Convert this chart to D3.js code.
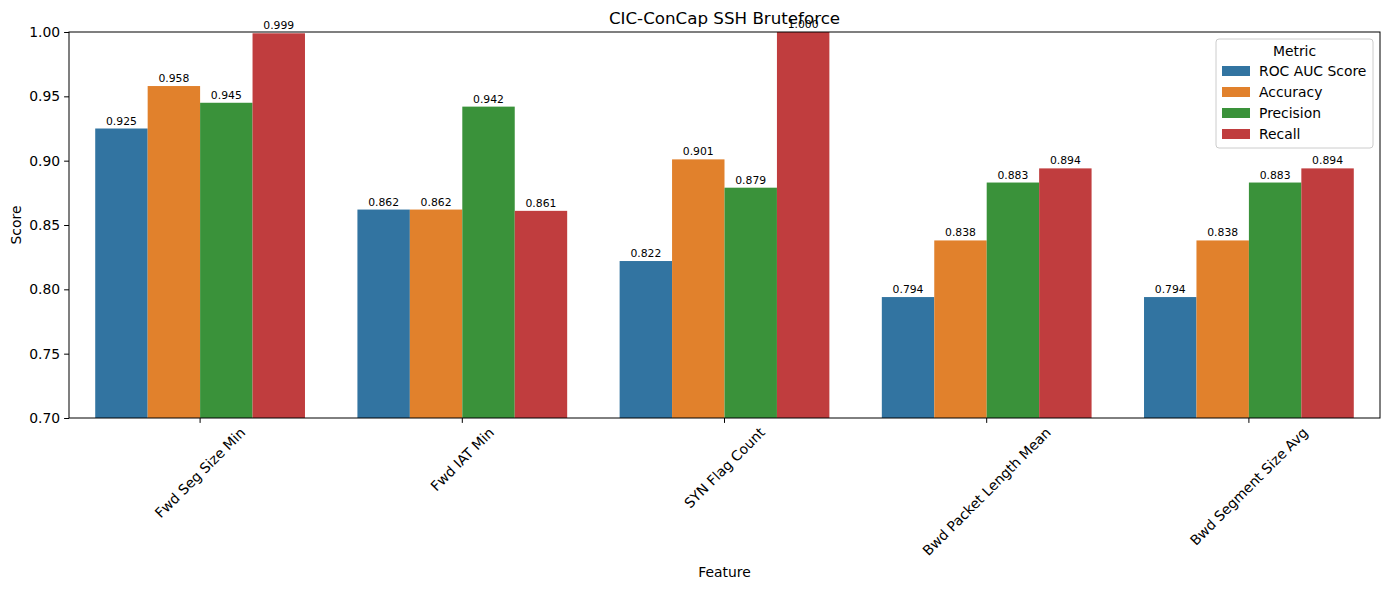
<!DOCTYPE html>
<html><head><meta charset="utf-8">
<script src="https://cdn.jsdelivr.net/npm/d3@7"></script>
<style>body{margin:0;background:#fff}text{font-family:"DejaVu Sans",sans-serif}</style>
</head><body><svg id="c" width="1390" height="590"></svg>
<script>
const features = ["Fwd Seg Size Min","Fwd IAT Min","SYN Flag Count","Bwd Packet Length Mean","Bwd Segment Size Avg"];
const metrics = ["ROC AUC Score","Accuracy","Precision","Recall"];
const colors = ["#3274a1","#e1812c","#3a923a","#c03d3e"];
const rocAuc = [0.925,0.862,0.822,0.794,0.794];
const accuracy = [0.958,0.862,0.901,0.838,0.838];
const precision = [0.945,0.942,0.879,0.883,0.883];
const recall = [0.999,0.861,1.000,0.894,0.894];
const yTicks = [0.70,0.75,0.80,0.85,0.90,0.95,1.00];
const series = [rocAuc,accuracy,precision,recall];

const svg = d3.select("#c");
const L=69,R=1380,T=32,B=418;
const x = d3.scaleBand().domain(features).range([L,R]).paddingInner(0.2).paddingOuter(0.1);
const x1 = d3.scaleBand().domain(metrics).range([0,x.bandwidth()]);
const y = d3.scaleLinear().domain([0.7,1.0]).range([B,T]);

svg.append("clipPath").attr("id","clip").append("rect").attr("x",L).attr("y",T).attr("width",R-L).attr("height",B-T);
const g = svg.append("g").attr("clip-path","url(#clip)");
metrics.forEach((m,i)=>{
  features.forEach((f,j)=>{
    const v=series[i][j];
    g.append("rect").attr("x",x(f)+x1(m)).attr("y",y(v)).attr("width",x1.bandwidth()).attr("height",B-y(v)).attr("fill",colors[i]);
    svg.append("text").attr("x",x(f)+x1(m)+x1.bandwidth()/2).attr("y",y(v)-4).attr("text-anchor","middle").attr("font-size",10.8).text(v.toFixed(3));
  });
});

const ya = svg.append("g").attr("transform",`translate(${L},0)`).call(d3.axisLeft(y).tickValues(yTicks).tickFormat(d3.format(".2f")).tickSize(4.9).tickPadding(4));
ya.selectAll("text").attr("font-size",13.9).attr("fill","#000");
const xa = svg.append("g").attr("transform",`translate(0,${B})`).call(d3.axisBottom(x).tickSize(4.9).tickPadding(4));
xa.selectAll(".tick text").each(function(){
  const t=d3.select(this);
  const w=this.getComputedTextLength();
  const off=(w/2)*Math.SQRT1_2+10;
  t.attr("font-size",13.9).attr("fill","#000").attr("text-anchor","middle").attr("y",0).attr("dy","0.35em")
   .attr("transform",`translate(0,${off}) rotate(-45)`);
});
xa.selectAll(".tick text").each(function(){
  const t=d3.select(this);
  const w=this.getComputedTextLength();
  const off=(w/2)*Math.SQRT1_2+12;
  t.attr("transform",`translate(0,${off}) rotate(-45)`);
});
[ya,xa].forEach(a=>{a.select(".domain").remove();a.selectAll("line").attr("stroke","#000");});
svg.append("rect").attr("x",L).attr("y",T).attr("width",R-L).attr("height",B-T).attr("fill","none").attr("stroke","#000").attr("stroke-width",1);

svg.append("text").attr("x",(L+R)/2).attr("y",24).attr("text-anchor","middle").attr("font-size",16.7).text("CIC-ConCap SSH Bruteforce");
svg.append("text").attr("x",(L+R)/2).attr("y",577).attr("text-anchor","middle").attr("font-size",13.9).text("Feature");
svg.append("text").attr("transform",`translate(21,${(T+B)/2}) rotate(-90)`).attr("text-anchor","middle").attr("font-size",13.9).text("Score");

const lg = svg.append("g").attr("transform","translate(1216,39)");
lg.append("rect").attr("width",157).attr("height",109).attr("rx",3).attr("fill","#fff").attr("fill-opacity",0.8).attr("stroke","#ccc");
lg.append("text").attr("x",78.5).attr("y",17).attr("text-anchor","middle").attr("font-size",13.9).text("Metric");
metrics.forEach((m,i)=>{
  lg.append("rect").attr("x",6).attr("y",27+i*21).attr("width",28).attr("height",10).attr("fill",colors[i]);
  lg.append("text").attr("x",43).attr("y",37+i*21).attr("font-size",13.9).text(m);
});
</script></body></html>
